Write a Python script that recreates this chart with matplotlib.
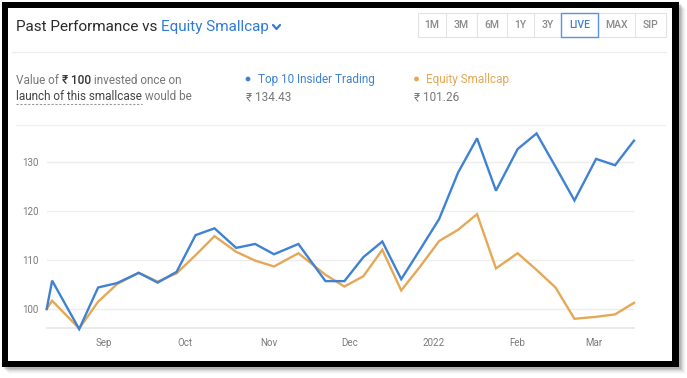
import matplotlib
matplotlib.use("Agg")
import matplotlib.pyplot as plt
import matplotlib.dates as mdates
from matplotlib.patches import Rectangle, FancyBboxPatch, Circle
import numpy as np
import datetime as dt

plt.rcParams['font.family'] = ['Roboto', 'DejaVu Sans']

# ---------------- data ----------------
dates = ['2021-08-11', '2021-08-13', '2021-08-23', '2021-08-30', '2021-09-06', '2021-09-14',
         '2021-09-21', '2021-09-28', '2021-10-05', '2021-10-12', '2021-10-20', '2021-10-27',
         '2021-11-03', '2021-11-12', '2021-11-22', '2021-11-29', '2021-12-06', '2021-12-13',
         '2021-12-20', '2021-12-27', '2022-01-03', '2022-01-10', '2022-01-17', '2022-01-24',
         '2022-02-01', '2022-02-08', '2022-02-15', '2022-02-22', '2022-03-02', '2022-03-09',
         '2022-03-16']
insider = [100, 105.8, 95.9, 104.4, 105.3, 107.4, 105.4, 107.6, 115.1, 116.5, 112.5, 113.3,
           111.2, 113.3, 105.7, 105.7, 110.6, 113.8, 106.1, 112.2, 118.4, 127.9, 134.9, 124.2,
           132.7, 135.9, 129.1, 122.2, 130.7, 129.4, 134.43]
smallcap = [100, 101.7, 96.0, 101.5, 105.1, 107.4, 105.6, 107.3, 111.0, 114.9, 111.7, 109.9,
            108.7, 111.4, 107.0, 104.6, 106.7, 112.1, 103.8, 108.7, 113.9, 116.2, 119.4, 108.3,
            111.4, 108.0, 104.4, 98.0, 98.4, 98.9, 101.26]
series_names = ['Top 10 Insider Trading', 'Equity Smallcap']
final_values = ['₹ 134.43', '₹ 101.26']
y_ticks = [100, 110, 120, 130]
x_ticks = ['2021-09-01', '2021-10-01', '2021-11-01', '2021-12-01', '2022-01-01', '2022-02-01', '2022-03-01']
x_tick_labels = ['Sep', 'Oct', 'Nov', 'Dec', '2022', 'Feb', 'Mar']
buttons = ['1M', '3M', '6M', '1Y', '3Y', 'LIVE', 'MAX', 'SIP']

BLUE = '#3f82d3'
ORANGE = '#e4a856'
W, H = 687, 378

fig = plt.figure(figsize=(W / 100, H / 100), dpi=100)
fig.patch.set_facecolor('white')

# overlay axes in pixel coordinates
ov = fig.add_axes([0, 0, 1, 1])
ov.set_xlim(0, W)
ov.set_ylim(H, 0)
ov.axis('off')

# shadow
for i, a in enumerate([0.10, 0.08, 0.06, 0.04, 0.03, 0.02]):
    ov.add_patch(Rectangle((4 + i, 4 + i), 679 - 4 + 2, 367 - 4 + 2, facecolor='black',
                           alpha=a, edgecolor='none', zorder=0))
# black frame
ov.add_patch(Rectangle((2, 2), 677, 365, facecolor='black', edgecolor='none', zorder=1))
ov.add_patch(Rectangle((8, 8), 664, 353, facecolor='white', edgecolor='none', zorder=2))

renderer = fig.canvas.get_renderer()


def put(x, y, s, **kw):
    t = ov.text(x, y, s, va='center', ha='left', zorder=5, **kw)
    bb = t.get_window_extent(renderer=renderer)
    return x + bb.width * W / fig.bbox.width


# title
x = put(16, 27, 'Past Performance vs ', fontsize=11, color='#2b2b2b')
x = put(x, 27, 'Equity Smallcap', fontsize=11, color='#2f7bd6')
ov.plot([x + 4, x + 7.5, x + 11], [25, 29, 25], color='#2f7bd6', lw=1.6, zorder=5,
        solid_capstyle='round', solid_joinstyle='round')

# buttons
edges = [417.5, 446, 476.5, 507, 533.5, 561, 597.5, 635, 666]
ov.add_patch(Rectangle((edges[0], 12.5), edges[-1] - edges[0], 24.5, facecolor='white',
                       edgecolor='#e3e3e3', lw=0.8, zorder=3))
for i, b in enumerate(buttons):
    if 0 < i:
        ov.plot([edges[i], edges[i]], [12.5, 37], color='#e3e3e3', lw=0.8, zorder=3)
    cx = (edges[i] + edges[i + 1]) / 2
    col = '#3f7fd8' if b == 'LIVE' else '#8a8a8a'
    ov.text(cx, 25, b, ha='center', va='center', fontsize=7.5, color=col, zorder=5,
            fontweight='medium')
live = buttons.index('LIVE')
ov.add_patch(Rectangle((edges[live], 12.5), edges[live + 1] - edges[live], 24.5,
                       facecolor='none', edgecolor='#5a95e0', lw=1.0, zorder=4))

# separators
ov.plot([12, 666], [52, 52], color='#eeeeee', lw=1, zorder=3)
ov.plot([16, 665], [125, 125], color='#f0f0f0', lw=1, zorder=3)

# description text
x = put(16, 80, 'Value of ', fontsize=8.5, color='#777777')
x = put(x, 80, '₹ 100', fontsize=8.5, color='#333333', fontweight='medium')
x = put(x, 80, ' invested once on', fontsize=8.5, color='#777777')
x1 = put(16, 97, 'launch of this smallcase', fontsize=8.5, color='#444444')
put(x1, 97, ' would be', fontsize=8.5, color='#777777')
ov.plot([16, x1], [103.5, 103.5], color='#999999', lw=0.8, ls=(0, (2, 1.5)), zorder=5)

# legend
for (dx, name, col, val) in [(248, series_names[0], BLUE, final_values[0]),
                             (416.5, series_names[1], ORANGE, final_values[1])]:
    ov.add_patch(Circle((dx, 79), 2.4, facecolor=col, edgecolor='none', zorder=5))
    put(dx + 10, 79, name, fontsize=8.5, color=col)
    put(dx - 2, 97.5, val, fontsize=8.5, color='#777777')

# ---------------- chart ----------------
d = [dt.datetime.strptime(s, '%Y-%m-%d') for s in dates]
px_per_unit = (309.0 - 162.3) / 30.0
y_bottom_px, y_top_px = 328.3, 125.0
y_lo = 100 - (y_bottom_px - 309.0) / px_per_unit
y_hi = 100 + (309.0 - y_top_px) / px_per_unit
left_px, right_px = 46.7, 634.0

ax = fig.add_axes([left_px / W, 1 - y_bottom_px / H, (right_px - left_px) / W,
                   (y_bottom_px - y_top_px) / H])
ax.set_facecolor('none')
ax.set_zorder(6)
ax.set_xlim(d[0], d[-1])
ax.set_ylim(y_lo, y_hi)
for s in ax.spines.values():
    s.set_visible(False)
ax.axhline(y_lo, color='#e6e6e6', lw=1.2, zorder=1, clip_on=False)
for yv in y_ticks:
    ax.axhline(yv, color='#ededed', lw=1, zorder=1)
ax.plot(d, smallcap, color=ORANGE, lw=1.7, zorder=3, solid_joinstyle='miter', clip_on=False)
ax.plot(d, insider, color=BLUE, lw=1.7, zorder=4, solid_joinstyle='miter', clip_on=False)

ax.set_yticks(y_ticks)
ax.set_yticklabels([str(v) for v in y_ticks], fontsize=7, color='#7a7a7a')
ax.set_xticks([dt.datetime.strptime(s, '%Y-%m-%d') for s in x_ticks])
ax.set_xticklabels(x_tick_labels, fontsize=7, color='#7a7a7a')
ax.tick_params(axis='both', length=0)
ax.tick_params(axis='y', pad=6)
ax.tick_params(axis='x', pad=7)

fig.savefig('out.png', dpi=100)
